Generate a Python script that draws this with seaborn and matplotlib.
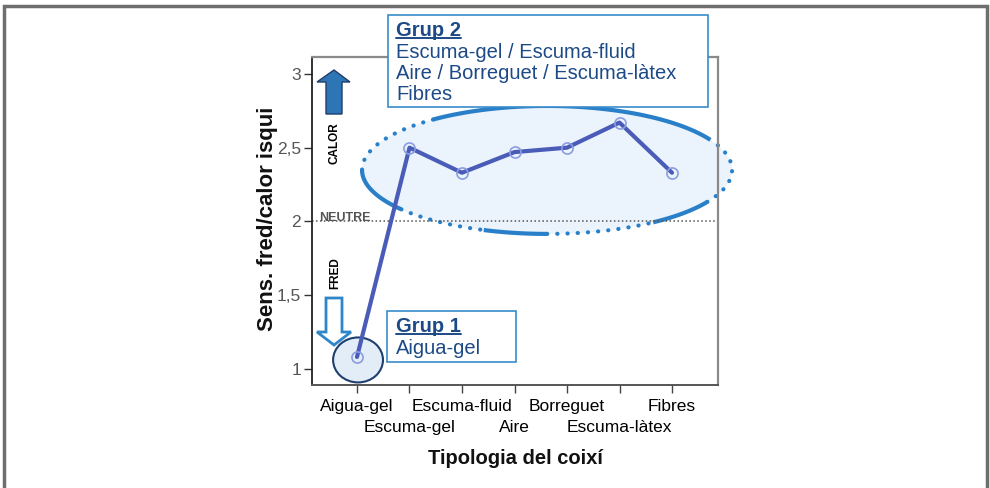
import matplotlib
matplotlib.use("Agg")
import matplotlib.pyplot as plt
import seaborn as sns
import numpy as np
import pandas as pd
from matplotlib.patches import Ellipse, Rectangle, Polygon
from matplotlib.lines import Line2D

# ---------------- data ----------------
categories = ["Aigua-gel", "Escuma-gel", "Escuma-fluid", "Aire",
              "Borreguet", "Escuma-làtex", "Fibres"]
values = [1.08, 2.50, 2.33, 2.47, 2.50, 2.67, 2.33]
y_ticks = [1, 1.5, 2, 2.5, 3]
y_tick_labels = ["1", "1,5", "2", "2,5", "3"]
neutral_level = 2
x_title = "Tipologia del coixí"
y_title = "Sens. fred/calor isqui"
group1_title = "Grup 1"
group1_lines = ["Aigua-gel"]
group2_title = "Grup 2"
group2_lines = ["Escuma-gel / Escuma-fluid",
                "Aire / Borreguet / Escuma-làtex",
                "Fibres"]

# ---------------- style ----------------
sns.set_theme(style="ticks")
plt.rcParams["font.family"] = ["Liberation Sans", "DejaVu Sans"]

W, H = 990, 488
fig = plt.figure(figsize=(W / 100, H / 100), dpi=100)
fig.patch.set_facecolor("white")


def fx(px):
    return px / W


def fy(py):
    return 1 - py / H


# outer gray frame
fig.add_artist(Rectangle((fx(4), fy(520)), fx(987) - fx(4), fy(6) - fy(520),
                         transform=fig.transFigure, fill=False,
                         edgecolor="#6e6e6e", lw=2.5, clip_on=False))

ax = fig.add_axes([fx(312), fy(385), fx(718) - fx(312), fy(57) - fy(385)])
ax.set_facecolor("white")

df = pd.DataFrame({"pos": np.arange(len(categories)), "val": values})

# Group ellipses (drawn under the line)
g2_cx, g2_cy, g2_a, g2_b = 3.62, 2.349, 3.524, 0.434
ax.add_patch(Ellipse((g2_cx, g2_cy), 2 * g2_a, 2 * g2_b, facecolor="#ebf3fc",
                     edgecolor="none", zorder=1, clip_on=False))
solid_segs = [(28, 128), (180, 218), (250, 270), (305, 330)]
dotted_segs = [(128, 180), (218, 250), (270, 305), (330, 388)]
for t1, t2 in solid_segs:
    t = np.deg2rad(np.linspace(t1, t2, 80))
    ax.plot(g2_cx + g2_a * np.cos(t), g2_cy + g2_b * np.sin(t),
            color="#2a80c8", lw=3, solid_capstyle="butt", zorder=2, clip_on=False)
for t1, t2 in dotted_segs:
    t = np.deg2rad(np.linspace(t1, t2, 120))
    ax.plot(g2_cx + g2_a * np.cos(t), g2_cy + g2_b * np.sin(t),
            color="#2a80c8", lw=3, ls=(0, (0.05, 2.4)), dash_capstyle="round",
            zorder=2, clip_on=False)

ax.add_patch(Ellipse((0.02, 1.06), 0.95, 0.305, facecolor="#e3edf8",
                     edgecolor="#1f3f6e", lw=1.5, zorder=2, clip_on=False))

# neutral line
ax.axhline(neutral_level, color="#555555", ls=(0, (1, 1.6)), lw=1.1, zorder=2)

sns.lineplot(data=df, x="pos", y="val", ax=ax, color="#4a5cb8", lw=3,
             marker="o", markersize=8, markerfacecolor="none",
             markeredgecolor="#8b9de0", markeredgewidth=1.2, zorder=5)

ax.set_xlim(-0.857, 6.876)
ax.set_ylim(0.89, 3.115)
ax.set_xlabel("")
ax.set_ylabel("")

ax.set_yticks(y_ticks)
ax.set_yticklabels(y_tick_labels, fontsize=12.5, color="#555555")
ax.tick_params(axis="y", length=6, width=1, color="#333333", pad=2)

ax.set_xticks(np.arange(len(categories)))
ax.set_xticklabels(categories, fontsize=12.5, color="black")
ax.tick_params(axis="x", length=6, width=1, color="#444444", pad=4)
for i, tk in enumerate(ax.xaxis.get_major_ticks()):
    if i % 2 == 1:
        tk.tick1line.set_markersize(22)
        tk.set_pad(19)

ax.spines["left"].set_color("#222222")
ax.spines["left"].set_linewidth(1.3)
ax.spines["bottom"].set_color("#555555")
ax.spines["bottom"].set_linewidth(1.4)
for s in ["top", "right"]:
    ax.spines[s].set_visible(True)
    ax.spines[s].set_color("#8a8a8a")
    ax.spines[s].set_linewidth(1.6)

# axis titles
fig.text(fx(268), fy(219), y_title, rotation=90, ha="center", va="center",
         fontsize=16, fontweight="bold", color="#111111")
fig.text(fx(515), fy(458), x_title, ha="center", va="center",
         fontsize=14.5, fontweight="bold", color="#111111")

# NEUTRE / CALOR / FRED labels
fig.text(fx(345), fy(218), "NEUTRE", ha="center", va="center", fontsize=9,
         fontweight="bold", color="#555555")
fig.text(fx(335), fy(143), "CALOR", rotation=90, ha="center", va="center",
         fontsize=8.5, fontweight="bold", color="black")
fig.text(fx(335), fy(273), "FRED", rotation=90, ha="center", va="center",
         fontsize=8.5, fontweight="bold", color="black")


def arrow_poly(pts):
    return [(fx(x), fy(y)) for x, y in pts]


up = [(326, 114), (342, 114), (342, 82), (350, 82), (334, 70), (317, 82), (326, 82)]
fig.add_artist(Polygon(arrow_poly(up), closed=True, transform=fig.transFigure,
                       facecolor="#2e75b6", edgecolor="#1f3d6b", lw=1))
down = [(326, 298), (342, 298), (342, 332), (351, 332), (334, 345), (317, 332), (326, 332)]
fig.add_artist(Polygon(arrow_poly(down), closed=True, transform=fig.transFigure,
                       facecolor="white", edgecolor="#2e86c9", lw=2))

# group boxes
text_col = "#1c4a87"
box_col = "#3a8ccc"
fig.add_artist(Rectangle((fx(388), fy(107)), fx(708) - fx(388), fy(15) - fy(107),
                         transform=fig.transFigure, facecolor="white",
                         edgecolor=box_col, lw=1.2))
fig.add_artist(Rectangle((fx(387), fy(362)), fx(516) - fx(387), fy(311) - fy(362),
                         transform=fig.transFigure, facecolor="white",
                         edgecolor=box_col, lw=1.2))

t2 = fig.text(fx(396), fy(30), group2_title, ha="left", va="center", fontsize=14.5,
              fontweight="bold", color=text_col)
for k, line in enumerate(group2_lines):
    fig.text(fx(396), fy(52 + 21.3 * k), line, ha="left", va="center",
             fontsize=14.5, color=text_col)
t1 = fig.text(fx(396), fy(326), group1_title, ha="left", va="center", fontsize=14.5,
              fontweight="bold", color=text_col)
for k, line in enumerate(group1_lines):
    fig.text(fx(396), fy(348 + 21.3 * k), line, ha="left", va="center",
             fontsize=14.5, color=text_col)

fig.canvas.draw()
for t, uy in [(t2, 38), (t1, 334)]:
    bb = t.get_window_extent()
    fig.add_artist(Line2D([bb.x0 / W, bb.x1 / W], [fy(uy), fy(uy)],
                          transform=fig.transFigure, color=text_col, lw=1.4))

fig.savefig("out.png", dpi=100, facecolor="white")
